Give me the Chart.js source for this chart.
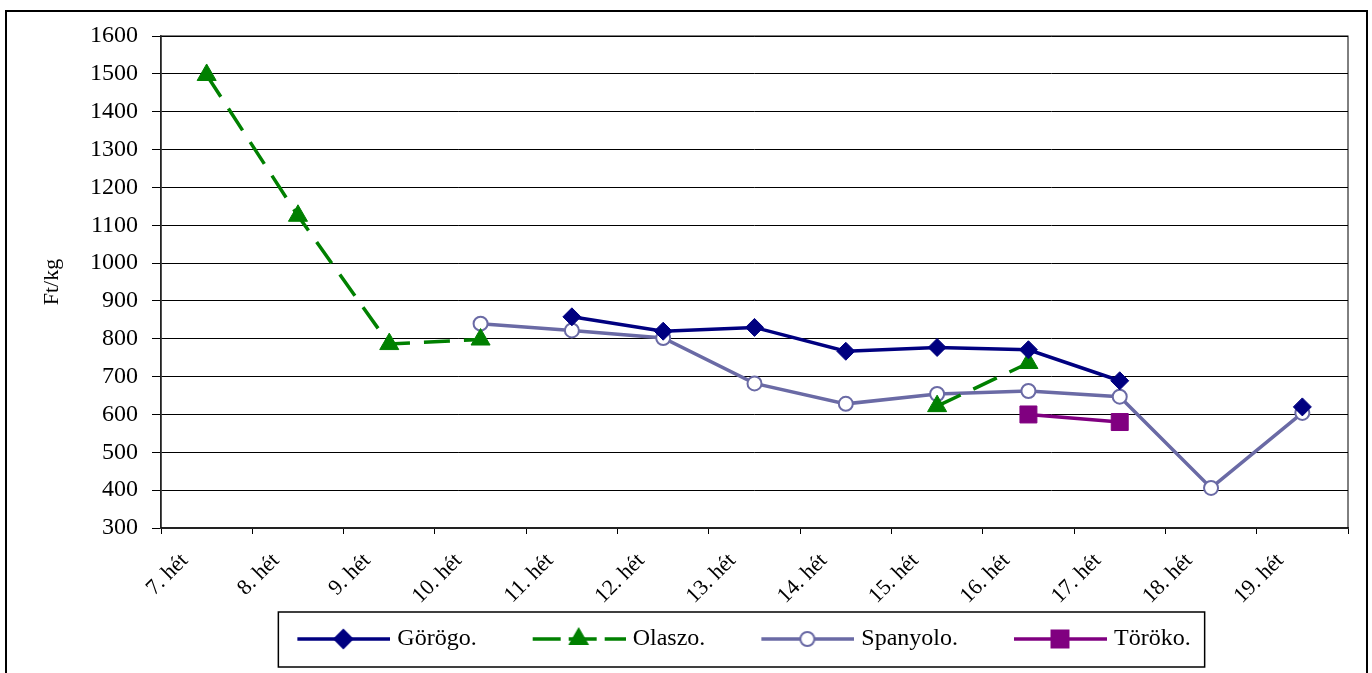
<!DOCTYPE html>
<html>
<head>
<meta charset="utf-8">
<script src="https://cdn.jsdelivr.net/npm/chart.js@4.4.0/dist/chart.umd.min.js"></script>
<style>
  html, body { margin: 0; padding: 0; background: #fff; }
  #wrap { width: 1372px; height: 673px; }
</style>
</head>
<body>
<div id="wrap"><canvas id="chart" width="1372" height="673"></canvas></div>
<script>
/* dados (Ft/kg por semana) */
const weeks = ['7. hét', '8. hét', '9. hét', '10. hét', '11. hét', '12. hét', '13. hét',
               '14. hét', '15. hét', '16. hét', '17. hét', '18. hét', '19. hét'];
const gorogo   = [null, null, null, null, 858, 820, 830, 767, 777, 771, 689, null, 620];
const olaszo   = [1497, 1125, 786, 798, null, null, null, null, 622, 736, null, null, null];
const spanyolo = [null, null, null, 840, 822, 802, 682, 628, 654, 662, 647, 406, 604];
const toroko   = [null, null, null, null, null, null, null, null, null, 600, 580, null, null];
const yTicks = { min: 300, max: 1600, step: 100 };

const SERIF = '"Liberation Serif", "Times New Roman", serif';
const NAVY = '#000080', GREEN = '#008000', SLATE = '#6a6aa5', PURPLE = '#800080';

/* -----------------------
   amostras da legenda: linha + marcador
   ----------------------- */
function makeSample(color, dash, style, radius, fill){
  const cv = document.createElement('canvas');
  cv.width = 150; cv.height = 30;
  const g = cv.getContext('2d');
  g.strokeStyle = color;
  g.lineWidth = 3.5;
  g.setLineDash(dash);
  g.beginPath();
  g.moveTo(57, 15);
  g.lineTo(150, 15);
  g.stroke();
  g.setLineDash([]);
  g.fillStyle = fill;
  g.lineWidth = 2;
  Chart.helpers.drawPoint(g, { pointStyle: style, radius: radius, rotation: 0, borderWidth: 2 }, 103, 15);
  return cv;
}
const samples = [
  makeSample(NAVY, [], 'rectRot', 9, NAVY),
  makeSample(GREEN, [28, 8], 'triangle', 10, GREEN),
  makeSample(SLATE, [], 'circle', 7, '#fff'),
  makeSample(PURPLE, [], 'rect', 12, PURPLE)
];

/* moldura externa, borda da área do gráfico e caixa da legenda */
const framePlugin = {
  id: 'frame',
  beforeDraw(chart){
    const c = chart.ctx;
    c.save();
    c.strokeStyle = '#000';
    c.lineWidth = 2;
    c.strokeRect(6, 11, 1361, 700);
    c.restore();
  },
  beforeDatasetsDraw(chart){
    const a = chart.chartArea, c = chart.ctx;
    c.save();
    c.strokeStyle = '#000';
    c.lineWidth = 1;
    c.strokeRect(a.left, a.top, a.right - a.left, a.bottom - a.top);
    c.restore();
  },
  afterDraw(chart){
    const hb = chart.legend.legendHitBoxes;
    if(!hb || !hb.length) return;
    const first = hb[0], last = hb[hb.length - 1];
    const c = chart.ctx;
    c.save();
    c.strokeStyle = '#000';
    c.lineWidth = 1.5;
    const l = first.left + 33, r = last.left + last.width + 14;
    c.strokeRect(l, first.top - 15, r - l, 55);
    c.restore();
  }
};

const ctx = document.getElementById('chart').getContext('2d');
new Chart(ctx, {
  type: 'line',
  data: {
    labels: weeks,
    datasets: [
      { label: 'Görögo.', data: gorogo, borderColor: NAVY, backgroundColor: NAVY,
        borderWidth: 3.5, pointStyle: 'rectRot', pointRadius: 9, pointBorderWidth: 1,
        pointBackgroundColor: NAVY, pointBorderColor: NAVY },
      { label: 'Olaszo.', data: olaszo, borderColor: GREEN, backgroundColor: GREEN,
        borderWidth: 3.5, borderDash: [26, 14], pointStyle: 'triangle', pointRadius: 11,
        pointBorderWidth: 1, pointBackgroundColor: GREEN, pointBorderColor: GREEN },
      { label: 'Spanyolo.', data: spanyolo, borderColor: SLATE, backgroundColor: '#fff',
        borderWidth: 3.5, pointStyle: 'circle', pointRadius: 7, pointBorderWidth: 2,
        pointBackgroundColor: '#fff', pointBorderColor: SLATE },
      { label: 'Töröko.', data: toroko, borderColor: PURPLE, backgroundColor: PURPLE,
        borderWidth: 3.5, pointStyle: 'rect', pointRadius: 12, pointBorderWidth: 1,
        pointBackgroundColor: PURPLE, pointBorderColor: PURPLE }
    ]
  },
  options: {
    responsive: false,
    animation: false,
    devicePixelRatio: 1,
    spanGaps: false,
    layout: { padding: { left: 88, right: 24, top: 36, bottom: 12 } },
    plugins: {
      tooltip: { enabled: false },
      legend: {
        position: 'bottom',
        labels: {
          usePointStyle: true,
          pointStyleWidth: 140,
          padding: 4,
          color: '#000',
          font: { family: SERIF, size: 24 },
          generateLabels(chart){
            return chart.data.datasets.map((ds, i) => ({
              text: ds.label, pointStyle: samples[i], datasetIndex: i,
              hidden: false, lineWidth: 0, strokeStyle: 'transparent', fillStyle: 'transparent',
              fontColor: '#000'
            }));
          }
        }
      }
    },
    scales: {
      x: {
        offset: true,
        afterFit(scale){ scale.height = 95; },
        grid: { offset: true, drawOnChartArea: false, drawTicks: true, tickLength: 6, color: '#000' },
        border: { color: '#444', width: 2 },
        ticks: {
          autoSkip: false, minRotation: 45, maxRotation: 45, labelOffset: -22, padding: 14,
          color: '#000', font: { family: SERIF, size: 22 }
        }
      },
      y: {
        min: yTicks.min, max: yTicks.max,
        afterFit(scale){ scale.width = 73; },
        title: { display: true, text: 'Ft/kg', color: '#000',
                 font: { family: SERIF, size: 22 }, padding: { top: -49, bottom: 0 } },
        grid: { color: '#000', lineWidth: 1, tickLength: 9 },
        border: { color: '#444', width: 1.5 },
        ticks: { stepSize: yTicks.step, padding: 14, color: '#000',
                 font: { family: SERIF, size: 24 }, callback: v => String(v) }
      }
    }
  },
  plugins: [framePlugin]
});
</script>
</body>
</html>
